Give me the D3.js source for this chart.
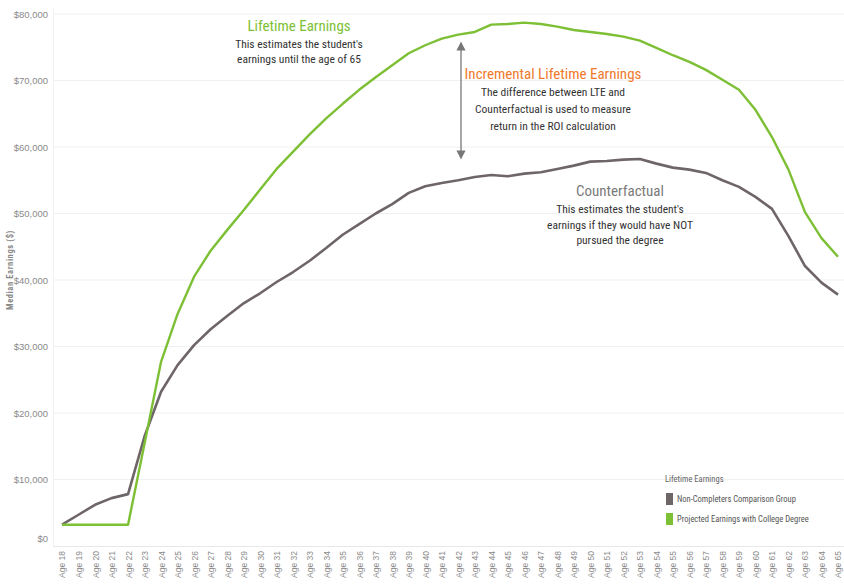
<!DOCTYPE html>
<html><head><meta charset="utf-8">
<script src="https://cdnjs.cloudflare.com/ajax/libs/d3/7.8.5/d3.min.js"></script>
<style>
body{margin:0;background:#fff;}
svg{display:block;font-family:"Liberation Sans Narrow","Arial Narrow","Roboto Condensed","Liberation Sans",sans-serif;}
</style></head>
<body><svg id="c" width="844" height="586"></svg>
<script>
const ages = d3.range(18, 66).map(a => "Age " + a);
const counterfactual = [3200,4700,6200,7200,7800,16500,23200,27200,30200,32600,34600,36500,38000,39700,41200,42900,44800,46800,48400,50000,51400,53100,54100,54600,55000,55500,55800,55600,56000,56200,56700,57200,57800,57900,58100,58200,57500,56900,56600,56100,55000,54000,52500,50700,46600,42100,39600,37800];
const lifetime = [3200,3200,3200,3200,3200,15400,27700,34900,40500,44400,47500,50500,53600,56700,59300,61900,64300,66500,68600,70500,72300,74100,75300,76300,76900,77300,78400,78500,78700,78500,78100,77600,77300,77000,76600,76000,74900,73800,72800,71600,70100,68600,65600,61500,56600,50200,46300,43500];
const yTicks = [0,10000,20000,30000,40000,50000,60000,70000,80000];
const seriesNames = ["Non-Completers Comparison Group","Projected Earnings with College Degree"];
const seriesColors = ["#6e6567","#7dbf35"];

const svg = d3.select("#c");
const x = d3.scalePoint().domain(ages).range([62, 838]);
const y = d3.scaleLinear().domain([0, 80000]).range([546, 14]);

// gridlines
svg.append("g").selectAll("line").data(yTicks.slice(1)).join("line")
  .attr("x1", 53).attr("x2", 844).attr("y1", d => y(d)).attr("y2", d => y(d))
  .attr("stroke", "#f0f0f0").attr("stroke-width", 1);
svg.append("line").attr("x1", 53.5).attr("x2", 53.5).attr("y1", 8).attr("y2", 546).attr("stroke", "#f2f2f2");
svg.append("line").attr("x1", 53).attr("x2", 844).attr("y1", 546.5).attr("y2", 546.5).attr("stroke", "#e8e8e8");

// y axis
const yAxis = d3.axisLeft(y).tickValues(yTicks).tickSize(0).tickPadding(4)
  .tickFormat(d => "$" + d3.format(",")(d));
const yg = svg.append("g").attr("transform", "translate(52,0)").call(yAxis);
yg.select(".domain").remove();
yg.selectAll("text").attr("fill", "#8a8a8a").style("font-size", "9.5px")
  .style("font-family", "inherit");
yg.selectAll(".tick").filter(d => d === 0).select("text").attr("dy", "-0.5em");

svg.append("text").attr("transform", "translate(13,270) rotate(-90)")
  .attr("text-anchor", "middle").attr("fill", "#888").style("font-size", "8.5px")
  .style("font-weight", "bold").style("letter-spacing", "0.6px").text("Median Earnings ($)");

// x axis
const xAxis = d3.axisBottom(x).tickSize(0).tickPadding(0);
const xg = svg.append("g").attr("transform", "translate(0,551)").call(xAxis);
xg.select(".domain").remove();
xg.selectAll("text").attr("transform", "rotate(-90)").attr("text-anchor", "end")
  .attr("x", 0).attr("y", 0).attr("dy", "0.35em")
  .attr("fill", "#8a8a8a").style("font-size", "8.5px").style("font-family", "inherit");

// lines
const line = d3.line().x((d, i) => x(ages[i])).y(d => y(d));
svg.append("path").datum(counterfactual).attr("d", line).attr("fill", "none")
  .attr("stroke", seriesColors[0]).attr("stroke-width", 2.6).attr("stroke-linejoin", "round");
svg.append("path").datum(lifetime).attr("d", line).attr("fill", "none")
  .attr("stroke", seriesColors[1]).attr("stroke-width", 2.4).attr("stroke-linejoin", "round");

// annotations
function block(cx, y0, title, color, lines, step) {
  svg.append("text").attr("x", cx).attr("y", y0).attr("text-anchor", "middle")
    .attr("fill", color).style("font-size", "15px").style("font-weight", "normal").text(title);
  lines.forEach((t, i) => svg.append("text").attr("x", cx).attr("y", y0 + 17 + i * step)
    .attr("text-anchor", "middle").attr("fill", "#333").style("font-size", "11.5px").text(t));
}
block(299, 31, "Lifetime Earnings", "#7dbf35", ["This estimates the student's", "earnings until the age of 65"], 15);
block(553, 79, "Incremental Lifetime Earnings", "#f07a2c", ["The difference between LTE and", "Counterfactual is used to measure", "return in the ROI calculation"], 17);
block(620, 196, "Counterfactual", "#7a7a7a", ["This estimates the student's", "earnings if they would have NOT", "pursued the degree"], 15.5);

// arrow
const defs = svg.append("defs");
defs.append("marker").attr("id", "ah").attr("viewBox", "0 0 10 10").attr("refX", 5).attr("refY", 5)
  .attr("markerWidth", 7).attr("markerHeight", 9).attr("orient", "auto-start-reverse")
  .append("path").attr("d", "M0,0 L10,5 L0,10 z").attr("fill", "#777");
svg.append("line").attr("x1", 461).attr("x2", 461).attr("y1", 46).attr("y2", 155)
  .attr("stroke", "#777").attr("stroke-width", 1.3)
  .attr("marker-start", "url(#ah)").attr("marker-end", "url(#ah)");

// legend
const lg = svg.append("g").attr("transform", "translate(665,482)");
lg.append("text").attr("x", 0).attr("y", 0).attr("fill", "#666").style("font-size", "8.5px").text("Lifetime Earnings");
seriesNames.forEach((n, i) => {
  lg.append("rect").attr("x", 1).attr("y", 11 + i * 20).attr("width", 7).attr("height", 12).attr("fill", seriesColors[i]);
  lg.append("text").attr("x", 12).attr("y", 20 + i * 20).attr("fill", "#555").style("font-size", "8.5px").text(n);
});
</script></body></html>
